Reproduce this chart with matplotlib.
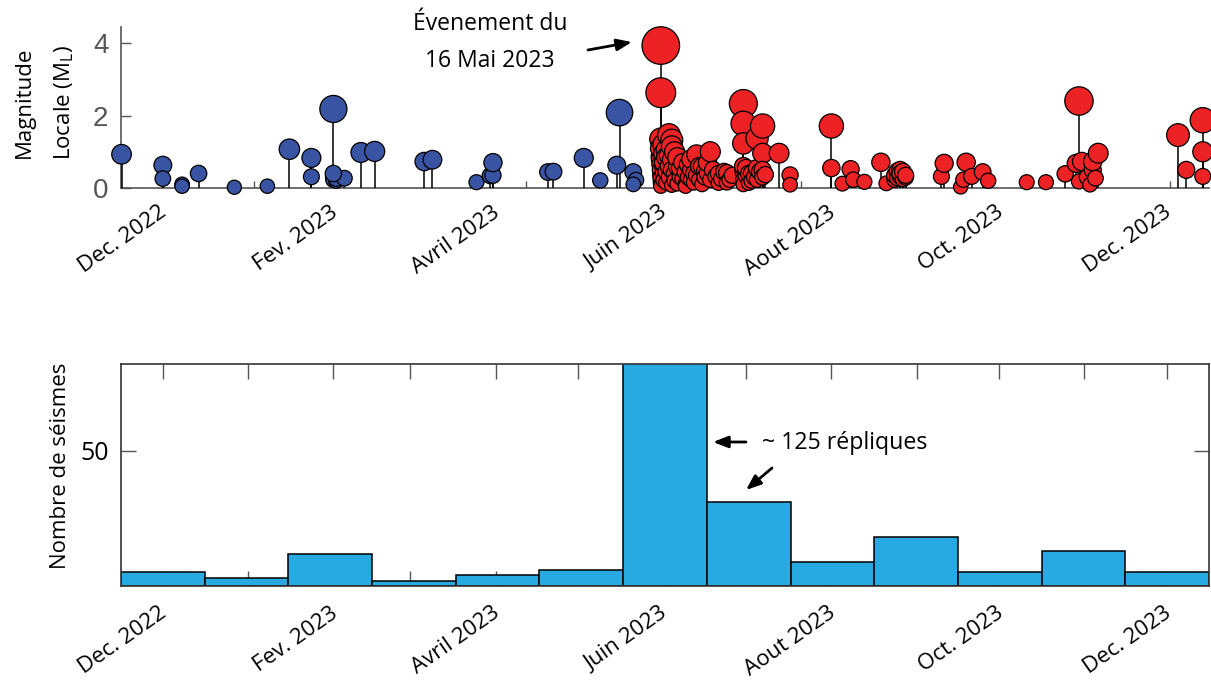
import matplotlib
matplotlib.use('Agg')
import matplotlib.pyplot as plt
import matplotlib.dates as mdates
import matplotlib.transforms as mtransforms
import numpy as np

# ---------------- data ----------------
blue_dates = ['2022-11-16', '2022-12-01', '2022-12-01', '2022-12-08', '2022-12-08', '2022-12-14',
              '2022-12-27', '2023-01-08', '2023-01-16', '2023-01-24', '2023-01-24', '2023-02-01',
              '2023-02-01', '2023-02-01', '2023-02-02', '2023-02-02', '2023-02-05', '2023-02-01',
              '2023-02-11', '2023-02-16', '2023-03-06', '2023-03-09', '2023-03-25', '2023-03-30',
              '2023-03-31', '2023-03-31', '2023-04-20', '2023-04-22', '2023-05-03', '2023-05-09',
              '2023-05-16', '2023-05-15', '2023-05-21', '2023-05-22', '2023-05-21']
blue_mags = [0.93, 0.63, 0.26, 0.10, 0.05, 0.40,
             0.02, 0.05, 1.07, 0.83, 0.31, 2.18,
             0.30, 0.23, 0.20, 0.26, 0.27, 0.40,
             0.98, 1.01, 0.73, 0.78, 0.16, 0.34,
             0.35, 0.70, 0.44, 0.45, 0.83, 0.21,
             2.08, 0.63, 0.44, 0.22, 0.10]

red_dates = ['2023-05-31', '2023-05-31', '2023-05-31', '2023-05-31', '2023-05-31', '2023-05-31',
             '2023-05-31', '2023-05-31', '2023-05-31', '2023-05-31', '2023-05-31', '2023-05-31',
             '2023-05-31',
             '2023-06-01', '2023-06-01', '2023-06-01', '2023-06-01', '2023-06-01', '2023-06-01',
             '2023-06-02', '2023-06-02', '2023-06-02', '2023-06-02',
             '2023-06-03', '2023-06-03', '2023-06-03', '2023-06-03',
             '2023-06-04', '2023-06-04', '2023-06-04', '2023-06-04', '2023-06-04',
             '2023-06-05', '2023-06-05', '2023-06-05',
             '2023-06-06', '2023-06-06', '2023-06-06',
             '2023-06-07', '2023-06-07', '2023-06-08', '2023-06-08',
             '2023-06-09', '2023-06-09', '2023-06-09', '2023-06-10', '2023-06-10',
             '2023-06-11', '2023-06-11', '2023-06-11', '2023-06-12', '2023-06-12',
             '2023-06-13', '2023-06-13', '2023-06-14', '2023-06-14', '2023-06-15', '2023-06-15',
             '2023-06-16', '2023-06-16', '2023-06-17', '2023-06-17', '2023-06-18', '2023-06-18',
             '2023-06-19', '2023-06-20', '2023-06-21', '2023-06-21', '2023-06-22', '2023-06-23',
             '2023-06-24', '2023-06-24', '2023-06-25', '2023-06-26',
             '2023-06-30', '2023-06-30', '2023-06-30', '2023-06-30', '2023-06-30', '2023-06-30',
             '2023-06-30',
             '2023-07-01', '2023-07-01', '2023-07-02', '2023-07-02', '2023-07-03', '2023-07-03',
             '2023-07-04', '2023-07-05', '2023-07-05', '2023-07-05', '2023-07-06',
             '2023-07-07', '2023-07-07', '2023-07-07', '2023-07-07', '2023-07-08',
             '2023-07-13', '2023-07-17', '2023-07-17',
             '2023-08-01', '2023-08-01', '2023-08-05', '2023-08-08', '2023-08-09', '2023-08-13',
             '2023-08-19', '2023-08-21', '2023-08-24', '2023-08-24', '2023-08-25', '2023-08-25',
             '2023-08-26', '2023-08-26', '2023-08-26', '2023-08-27', '2023-08-27', '2023-08-28',
             '2023-08-28',
             '2023-09-10', '2023-09-11', '2023-09-17', '2023-09-18', '2023-09-19', '2023-09-21',
             '2023-09-25', '2023-09-27',
             '2023-10-11', '2023-10-18', '2023-10-25', '2023-10-29', '2023-10-30', '2023-10-30',
             '2023-10-31', '2023-11-02', '2023-11-03', '2023-11-04', '2023-11-04', '2023-11-05',
             '2023-11-06',
             '2023-12-05', '2023-12-08', '2023-12-14', '2023-12-14', '2023-12-14']
red_mags = [3.93, 2.63, 1.35, 0.87, 0.80, 0.36,
            0.18, 1.10, 0.65, 0.50, 0.28, 0.10,
            0.05,
            1.20, 0.59, 0.95, 0.42, 0.22, 0.70,
            1.05, 0.45, 0.15, 0.85,
            1.46, 0.90, 0.30, 0.60,
            1.32, 0.78, 1.15, 0.50, 0.08,
            0.40, 0.20, 1.00,
            0.59, 0.85, 0.12,
            0.32, 0.55, 0.70, 0.25,
            0.12, 0.05, 0.45, 0.65, 0.30,
            0.50, 0.23, 0.80, 0.40, 0.15,
            0.92, 0.35, 0.23, 0.60, 0.59, 0.10,
            0.45, 0.30, 0.41, 0.70, 1.00, 0.23,
            0.50, 0.32, 0.14, 0.40, 0.25, 0.45,
            0.42, 0.15, 0.23, 0.35,
            2.33, 1.78, 1.23, 0.46, 0.23, 0.60,
            0.10,
            0.35, 0.55, 0.14, 0.40, 0.41, 0.20,
            0.30, 1.37, 0.23, 0.55, 0.45,
            1.71, 0.96, 0.50, 0.30, 0.37,
            0.96, 0.36, 0.09,
            1.71, 0.55, 0.12, 0.52, 0.23, 0.17,
            0.71, 0.13, 0.23, 0.35, 0.46, 0.28,
            0.50, 0.32, 0.40, 0.25, 0.45, 0.30,
            0.35,
            0.32, 0.68, 0.03, 0.23, 0.71, 0.32,
            0.44, 0.20,
            0.16, 0.16, 0.39, 0.68, 2.40, 0.18,
            0.73, 0.30, 0.09, 0.50, 0.73, 0.27,
            0.96,
            1.46, 0.50, 1.87, 1.00, 0.32]

month_dates = ['2022-12-01', '2023-01-01', '2023-02-01', '2023-03-01', '2023-04-01',
               '2023-05-01', '2023-06-01', '2023-07-01', '2023-08-01', '2023-09-01',
               '2023-10-01', '2023-11-01', '2023-12-01']
month_counts = [5, 3, 12, 2, 4, 6, 94, 31, 9, 18, 5, 13, 5]
month_labels = ['Dec. 2022', '', 'Fev. 2023', '', 'Avril 2023', '', 'Juin 2023', '',
                'Aout 2023', '', 'Oct. 2023', '', 'Dec. 2023']
extra_top_ticks = ['2023-01-03', '2023-04-12', '2023-07-21', '2023-12-02']

# ---------------- helpers ----------------
def to_num(ds):
    return mdates.date2num(np.array(ds, dtype='datetime64[D]'))

bx, bm = to_num(blue_dates), np.array(blue_mags)
rx, rm = to_num(red_dates), np.array(red_mags)
mx = to_num(month_dates)

x0 = mx[0] - 15.2
x1 = x0 + 13 * 30.42
edges = np.linspace(x0, x1, 14)

def msize(m):
    return ((14 + 6 * m) * 0.72) ** 2

BLUE = '#3A54A4'
RED = '#ED2224'
BAR = '#27AAE1'
GREY = '#555555'
FONT = 'Open Sans'

fig = plt.figure(figsize=(12.11, 6.81), dpi=100)
shift = mtransforms.ScaledTranslation(-3 / 72, 0, fig.dpi_scale_trans)

# ---------------- top: stem plot ----------------
ax1 = fig.add_axes([121 / 1211, 1 - 188 / 681, 1088 / 1211, (188 - 26.7) / 681])
ax1.set_xlim(x0, x1)
ax1.set_ylim(0, 4.45)

ax1.vlines(bx, 0, bm, color='black', lw=1.1, zorder=2, clip_on=False)
ax1.scatter(bx, bm, s=msize(bm), c=BLUE, edgecolors='black', linewidths=0.9, zorder=3, clip_on=False)
ax1.vlines(rx, 0, rm, color='black', lw=1.1, zorder=4, clip_on=False)
ax1.scatter(rx, rm, s=msize(rm), c=RED, edgecolors='black', linewidths=0.9, zorder=5, clip_on=False)

for s in ['top', 'right']:
    ax1.spines[s].set_visible(False)
for s in ['left', 'bottom']:
    ax1.spines[s].set_color(GREY)
    ax1.spines[s].set_linewidth(1.2)
    ax1.spines[s].set_zorder(1)

ax1.set_yticks([0, 2, 4])
ax1.set_yticklabels(['0', '2', '4'], fontfamily='Liberation Sans', fontsize=20, color=GREY)
ax1.tick_params(axis='y', direction='in', length=7, width=1.0, color=GREY, pad=9)
ax1.set_xticks(mx)
ax1.set_xticklabels(month_labels, rotation=35, ha='right', rotation_mode='anchor',
                    fontfamily=FONT, fontsize=16)
ax1.tick_params(axis='x', which='major', length=0, pad=10)
ax1.set_xticks(to_num(extra_top_ticks), minor=True)
ax1.tick_params(axis='x', which='minor', direction='in', length=5, width=1.0, color=GREY)
for lab in ax1.get_xticklabels():
    lab.set_transform(lab.get_transform() + shift)

ax1.set_ylabel('Magnitude\nLocale (M$_{\\mathregular{L}}$)', fontfamily=FONT, fontsize=16,
               linespacing=2.0)
ax1.yaxis.set_label_coords(-0.041, 0.53)

# ---------------- bottom: histogram ----------------
ax2 = fig.add_axes([121 / 1211, 1 - 586 / 681, 1088 / 1211, (586 - 364) / 681])
ax2.set_xlim(x0, x1)
ax2.set_ylim(0, 82)
ax2.set_axisbelow(True)
ax2.bar(edges[:-1], month_counts, width=np.diff(edges), align='edge', color=BAR,
        edgecolor='black', linewidth=1.1, zorder=1)
for s in ax2.spines.values():
    s.set_color('#333333')
    s.set_linewidth(1.2)
    s.set_zorder(3)
ax2.set_xticks(mx)
ax2.set_xticklabels(month_labels, rotation=35, ha='right', rotation_mode='anchor',
                    fontfamily=FONT, fontsize=16)
ax2.tick_params(axis='x', direction='in', length=11, width=1.0, color='#555555',
                top=True, bottom=True, pad=12)
for lab in ax2.get_xticklabels():
    lab.set_transform(lab.get_transform() + shift)
ax2.set_yticks([50])
ax2.set_yticklabels(['50'], fontfamily=FONT, fontsize=18)
ax2.tick_params(axis='y', direction='in', length=11, width=1.0, color='#555555',
                left=True, right=True, pad=9)
ax2.set_ylabel('Nombre de séismes', fontfamily=FONT, fontsize=16)
ax2.yaxis.set_label_coords(-0.046, 0.54)

# ---------------- annotations ----------------
H = 681
fig.text(490, H - 24, 'Évenement du', fontfamily=FONT, fontsize=16.5, ha='center', va='center',
         transform=None)
fig.text(490, H - 61, '16 Mai 2023', fontfamily=FONT, fontsize=16.5, ha='center', va='center',
         transform=None)
arrow_kw = dict(arrowstyle='-|>,head_length=0.9,head_width=0.35', color='black', lw=2.0,
                shrinkA=0, shrinkB=0)
ax1.annotate('', xy=(632, H - 42), xytext=(588, H - 50), xycoords='figure pixels',
             textcoords='figure pixels', arrowprops=arrow_kw, annotation_clip=False)

fig.text(762, H - 443, '~ 125 répliques', fontfamily=FONT, fontsize=16.7, ha='left', va='center',
         transform=None)
ax2.annotate('', xy=(713, H - 442), xytext=(746, H - 442), xycoords='figure pixels',
             textcoords='figure pixels', arrowprops=arrow_kw, annotation_clip=False)
ax2.annotate('', xy=(746, H - 490), xytext=(772, H - 468), xycoords='figure pixels',
             textcoords='figure pixels', arrowprops=arrow_kw, annotation_clip=False)

fig.savefig('out.png', dpi=100)
